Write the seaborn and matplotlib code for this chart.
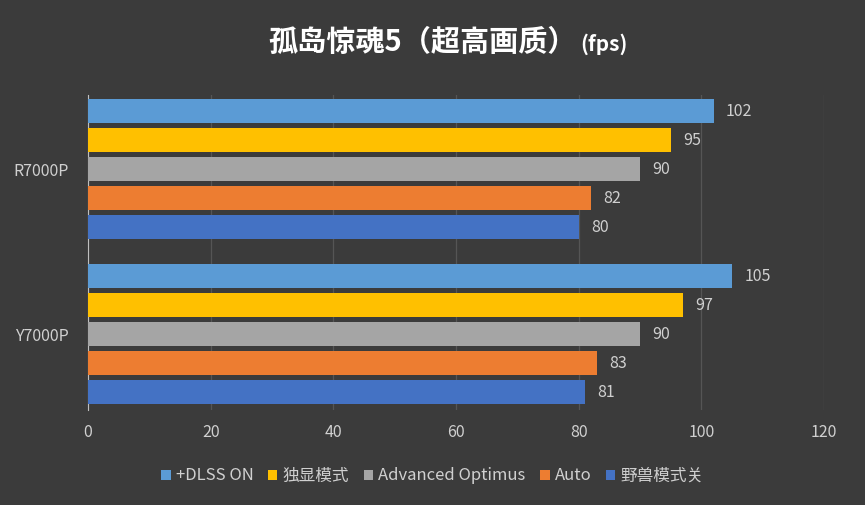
import matplotlib
matplotlib.use("Agg")
import matplotlib.pyplot as plt
from matplotlib import font_manager as fm
import seaborn as sns
import pandas as pd
from matplotlib.patches import Patch

categories = ["R7000P", "Y7000P"]
series = ["+DLSS ON", "独显模式", "Advanced Optimus", "Auto", "野兽模式关"]
values = {
    "+DLSS ON": [102, 105],
    "独显模式": [95, 97],
    "Advanced Optimus": [90, 90],
    "Auto": [82, 83],
    "野兽模式关": [80, 81],
}
colors = ["#5b9bd5", "#ffc000", "#a5a5a5", "#ed7d31", "#4472c4"]
xticks = [0, 20, 40, 60, 80, 100, 120]

rows = []
for s in series:
    for c, v in zip(categories, values[s]):
        rows.append({"cat": c, "series": s, "val": v})
df = pd.DataFrame(rows)

cjk = None
names = sorted({f.name for f in fm.fontManager.ttflist})
for pref in ["Noto Sans CJK SC", "Noto Sans CJK JP", "Noto Sans CJK TC", "Noto Sans CJK KR"]:
    if pref in names:
        cjk = pref
        break
if cjk is None:
    for n in names:
        if "CJK" in n:
            cjk = n
            break
if cjk is None:
    for p in fm.findSystemFonts():
        if "CJK" in p:
            fm.fontManager.addfont(p)
            cjk = fm.FontProperties(fname=p).get_name()
            break
plt.rcParams["font.family"] = "sans-serif"
plt.rcParams["font.sans-serif"] = ([cjk] if cjk else []) + ["DejaVu Sans"]

bg = "#3b3b3b"
fig = plt.figure(figsize=(8.65, 5.05), dpi=100, facecolor=bg)
W, H = 865, 505
ax = fig.add_axes([88 / W, 1 - 410 / H, (824 - 88) / W, (410 - 95) / H])
ax.set_facecolor(bg)

sns.barplot(data=df, y="cat", x="val", hue="series", hue_order=series,
            order=categories, palette=colors, orient="h", width=0.88,
            gap=0.17, ax=ax, legend=False, zorder=3, saturation=1)

for cont in ax.containers:
    ax.bar_label(cont, padding=9, color="#d0d0d0", fontsize=11.5)

ax.set_xlim(0, 120)
ax.set_ylim(1.46, -0.45)
ax.set_xticks(xticks)
ax.grid(axis="x", color="#555555", lw=0.9, zorder=0)
ax.grid(axis="y", visible=False)
for sp in ["top", "right", "bottom"]:
    ax.spines[sp].set_visible(False)
ax.spines["left"].set_color("#bfbfbf")
ax.tick_params(axis="both", length=0, colors="#d0d0d0", labelsize=11.5)
ax.tick_params(axis="x", pad=10)
ax.tick_params(axis="y", pad=14)
ax.set_xlabel("")
ax.set_ylabel("")

fig.text(577 / W, 1 - 42 / H, "孤岛惊魂5（超高画质）", ha="right", va="center",
         color="white", fontsize=21, fontweight="bold")
fig.text(580 / W, 1 - 44 / H, "(fps)", ha="left", va="center",
         color="white", fontsize=15, fontweight="bold")

handles = [Patch(facecolor=c, label=s) for c, s in zip(colors, series)]
fig.legend(handles=handles, loc="center", bbox_to_anchor=(0.5, 1 - 476 / H),
           ncol=5, frameon=False, fontsize=12, labelcolor="#d0d0d0",
           handlelength=0.55, handleheight=0.55, handletextpad=0.3,
           columnspacing=0.9)

fig.savefig("out.png", dpi=100, facecolor=bg)
